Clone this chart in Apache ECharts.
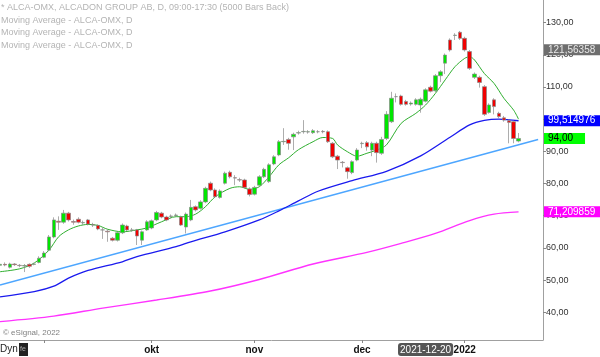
<!DOCTYPE html>
<html>
<head>
<meta charset="utf-8">
<script src="https://cdn.jsdelivr.net/npm/echarts@6/dist/echarts.min.js"></script>
<style>
html,body{margin:0;padding:0;background:#fff;}
#chart{width:600px;height:357px;}
</style>
</head>
<body>
<div id="chart"></div>
<script>
// ---- data ----
const dates = [
'2021-08-19','2021-08-20','2021-08-23','2021-08-24','2021-08-25','2021-08-26','2021-08-27','2021-08-30','2021-08-31',
'2021-09-01','2021-09-02','2021-09-03','2021-09-06','2021-09-07','2021-09-08','2021-09-09','2021-09-10','2021-09-13','2021-09-14','2021-09-15','2021-09-16','2021-09-17','2021-09-20','2021-09-21','2021-09-22','2021-09-23','2021-09-24','2021-09-27','2021-09-28','2021-09-29','2021-09-30',
'2021-10-01','2021-10-04','2021-10-05','2021-10-06','2021-10-07','2021-10-08','2021-10-11','2021-10-12','2021-10-13','2021-10-14','2021-10-15','2021-10-18','2021-10-19','2021-10-20','2021-10-21','2021-10-22','2021-10-25','2021-10-26','2021-10-27','2021-10-28','2021-10-29',
'2021-11-01','2021-11-02','2021-11-03','2021-11-04','2021-11-05','2021-11-08','2021-11-09','2021-11-10','2021-11-11','2021-11-12','2021-11-15','2021-11-16','2021-11-17','2021-11-18','2021-11-19','2021-11-22','2021-11-23','2021-11-24','2021-11-25','2021-11-26','2021-11-29','2021-11-30',
'2021-12-01','2021-12-02','2021-12-03','2021-12-06','2021-12-07','2021-12-08','2021-12-09','2021-12-10','2021-12-13','2021-12-14','2021-12-15','2021-12-16','2021-12-17','2021-12-20','2021-12-21','2021-12-22','2021-12-23','2021-12-27','2021-12-28','2021-12-29','2021-12-30',
'2022-01-03','2022-01-04','2022-01-05','2022-01-07','2022-01-10','2022-01-11','2022-01-12','2022-01-13','2022-01-14','2022-01-17','2022-01-18','2022-01-19',
'2022-01-20','2022-01-21','2022-01-24','2022-01-25','2022-01-26'
];
const openP = [54.6,54.9,54.0,55.0,54.6,54.4,54.9,54.9,55.5,57.1,59.3,63.4,68.3,68.0,70.8,68.2,68.9,67.8,68.7,67.2,67.0,65.6,65.2,63.0,62.4,64.7,66.8,65.5,65.6,62.4,65.6,66.2,68.7,70.8,69.6,69.8,70.1,69.6,66.5,68.7,72.8,72.3,74.3,80.1,78.0,75.7,80.1,83.5,81.8,81.2,81.1,78.3,76.7,79.5,82.1,80.6,86.1,88.9,93.0,93.7,94.5,95.7,96.1,96.0,95.8,96.1,96.2,96.1,92.5,88.5,86.6,84.9,83.4,87.3,92.4,92.7,90.4,92.5,89.4,94.0,99.2,107.0,107.2,105.5,104.7,104.6,104.4,105.6,109.9,108.8,113.5,117.4,124.6,126.0,127.0,125.1,121.0,113.0,113.0,110.1,102.1,106.0,101.8,100.4,99.5,99.2,93.2];
const closeP = [54.9,54.7,55.0,54.8,54.5,54.5,54.3,55.0,56.8,58.4,63.4,68.7,68.0,70.8,68.7,68.0,68.0,67.9,67.4,67.1,65.9,65.6,65.0,62.4,64.7,67.1,65.6,65.6,63.7,65.0,68.1,68.4,71.0,69.6,68.7,69.9,70.2,67.1,70.5,72.6,71.8,74.3,78.5,78.0,75.9,77.7,83.2,82.1,81.7,81.1,78.8,76.6,78.8,82.1,84.4,85.8,88.3,93.0,93.1,92.5,95.3,95.8,96.2,96.1,96.4,96.1,96.1,93.0,88.3,87.3,86.5,83.7,86.8,90.4,92.5,91.4,92.5,89.6,93.7,101.5,106.5,107.0,104.6,104.6,105.0,106.0,106.2,109.1,108.7,113.5,114.7,119.9,121.5,126.1,125.1,121.5,115.8,114.0,111.4,101.5,104.4,103.9,100.8,99.7,99.0,94.0,94.0];
const lowP = [54.2,54.3,53.6,54.4,54.0,52.5,53.8,54.6,55.2,56.8,59.0,63.0,65.6,67.5,68.2,67.2,67.6,67.2,67.0,66.5,65.5,62.8,61.9,62.0,62.0,64.3,65.2,65.0,60.9,60.9,65.3,65.8,68.3,69.2,68.3,69.2,69.6,66.8,64.5,68.3,71.3,71.9,73.9,77.6,75.5,75.3,79.7,81.6,79.5,80.5,78.4,76.0,76.3,79.1,81.7,80.2,85.7,88.5,92.0,90.5,90.4,95.2,95.5,95.5,95.4,95.6,95.6,92.6,87.9,84.5,85.0,81.5,82.9,86.9,91.0,90.2,88.5,86.5,88.9,93.5,98.8,105.2,104.2,104.2,104.2,104.2,102.0,105.2,108.3,108.4,111.5,114.0,121.0,124.6,124.6,121.0,115.3,112.5,109.8,101.0,101.7,101.5,100.3,99.2,92.5,92.5,92.8];
const highP = [55.3,55.5,55.4,55.3,55.0,55.0,55.2,55.4,57.4,59.0,64.0,69.5,69.8,71.8,71.2,68.8,69.5,68.5,69.0,67.8,67.3,66.3,65.8,63.4,65.0,67.6,67.2,66.2,65.9,65.4,68.6,68.8,71.5,71.2,70.0,70.4,70.7,70.0,71.0,74.9,73.2,74.8,79.0,80.6,78.5,78.2,83.7,84.0,82.6,81.8,81.5,78.8,79.3,82.6,84.9,86.3,88.8,93.5,97.2,94.2,95.8,96.4,99.7,96.6,96.9,96.6,96.6,96.5,92.9,88.9,87.0,85.3,87.2,91.0,93.0,93.2,93.0,93.0,94.5,102.5,108.5,108.0,107.6,106.0,105.5,106.5,106.7,109.6,110.4,114.0,115.2,120.4,125.1,126.7,127.4,125.6,121.5,114.5,113.5,110.6,104.9,106.5,102.3,101.0,99.9,99.6,95.7];
// moving averages read at sample bars: [barIndex, value]
const maFast = [[0,52.6],[4,53.5],[7,55.3],[10,59.3],[12,63.5],[14,65.6],[16,66.8],[18,67.3],[20,67.0],[22,65.8],[25,65.0],[28,65.6],[30,66.2],[33,68.1],[36,69.7],[38,69.7],[40,70.5],[42,72.8],[44,75.9],[47,78.5],[49,79.0],[51,78.2],[53,79.0],[55,82.1],[57,85.8],[59,88.0],[61,90.5],[64,93.0],[66,94.3],[68,94.0],[69,92.0],[71,89.9],[73,88.5],[75,89.4],[77,90.4],[79,92.0],[82,98.7],[85,101.8],[87,104.4],[89,108.0],[91,112.2],[93,116.3],[95,118.9],[96,119.4],[97,118.4],[99,114.2],[101,111.1],[103,106.5],[105,102.8],[106,100.0]];
const maMid = [[0,44.8],[7,46.4],[11,48.1],[14,50.6],[18,53.0],[25,55.7],[28,57.3],[36,60.4],[39,61.9],[46,65.0],[53,68.7],[57,71.5],[61,74.6],[65,77.6],[72,80.9],[79,83.8],[86,88.6],[92,94.4],[96,98.2],[99,99.6],[102,100.0],[106,99.5]];
const maSlow = [[0,37.1],[11,38.8],[21,41.3],[32,43.8],[43,46.6],[53,50.2],[64,55.0],[75,58.6],[82,61.4],[89,64.5],[96,68.5],[101,70.5],[106,71.2]];
const trendLine = [[0,48.5],[110,93.7]];
const yTicks = [40,50,60,70,80,90,100,110,120,130];
const priceTags = [121.56358, 99.514976, 94.00, 71.209859];
const priceTagText = ['121,56358','99,514976','94,00','71,209859'];
const monthNames = {'01':'2022','09':'','10':'okt','11':'nov','12':'dec'};
const crosshairDate = '2021-12-20';
const titleLines = ['* ALCA-OMX, ALCADON GROUP AB, D, 09:00-17:30 (5000 Bars Back)','Moving Average - ALCA-OMX, D','Moving Average - ALCA-OMX, D','Moving Average - ALCA-OMX, D'];

// ---- build ----
const candles = openP.map((o,i)=>[o, closeP[i], lowP[i], highP[i]]);
const isMonthStart = (i) => i > 0 && dates[i].slice(5,7) !== dates[i-1].slice(5,7);
const FONT = 'Liberation Sans, Arial, sans-serif';
const tagStyles = [
  {bg:'#6e6e6e', fg:'#e8e8e8'},
  {bg:'#0000ff', fg:'#ffffff'},
  {bg:'#00ff00', fg:'#000000'},
  {bg:'#ff00ff', fg:'#ffffff'}
];

const chart = echarts.init(document.getElementById('chart'), null, {renderer:'canvas'});
chart.setOption({
  animation: false,
  backgroundColor: '#ffffff',
  title: {
    text: titleLines.join('\n'),
    left: 1, top: 1, padding: 0,
    textStyle: {fontSize: 9, lineHeight: 12.8, color: '#b4b4b4', fontWeight: 'normal', fontFamily: FONT}
  },
  grid: {left: 0, right: 57, top: 0, bottom: 17, containLabel: false},
  xAxis: {
    type: 'category',
    data: dates,
    boundaryGap: false,
    axisLine: {show: true, lineStyle: {color: '#a0a0a0', width: 1}},
    axisTick: {show: true, length: 3, lineStyle: {color: '#888'}, interval: (i) => isMonthStart(i)},
    axisLabel: {
      interval: (i) => isMonthStart(i),
      formatter: (v) => monthNames[v.slice(5,7)] || '',
      color: '#111', fontSize: 10, fontWeight: 'bold', margin: 5, fontFamily: FONT
    },
    splitLine: {show: false},
    axisPointer: {
      show: true, status: 'show', value: dates.indexOf(crosshairDate), type: 'line',
      lineStyle: {opacity: 0}, triggerTooltip: false,
      label: {show: true, backgroundColor: '#555', color: '#fff', fontSize: 10, padding: [2,2,1,2], margin: 3, fontFamily: FONT,
        formatter: (p) => p.value}
    }
  },
  yAxis: {
    type: 'value',
    position: 'right',
    min: 31.39, max: 137.02,
    axisLine: {show: true, lineStyle: {color: '#a0a0a0', width: 1}},
    axisTick: {show: true, length: 3, lineStyle: {color: '#888'}, customValues: yTicks},
    axisLabel: {customValues: yTicks, formatter: (v) => v.toFixed(2).replace('.', ','), color: '#333', fontSize: 9, margin: 3, fontFamily: FONT},
    splitLine: {show: false}
  },
  series: [
    {
      type: 'line', name: 'slow', data: maSlow, showSymbol: false, smooth: 0.3,
      lineStyle: {color: '#ff33ff', width: 1.4}, z: 2, silent: true
    },
    {
      type: 'line', name: 'trend', data: trendLine, showSymbol: false,
      lineStyle: {color: '#4da6ff', width: 1.5}, z: 2, silent: true
    },
    {
      type: 'line', name: 'mid', data: maMid, showSymbol: false, smooth: 0.3,
      lineStyle: {color: '#1a1aee', width: 1.3}, z: 3, silent: true
    },
    {
      type: 'line', name: 'fast', data: maFast, showSymbol: false, smooth: 0.3,
      lineStyle: {color: '#2fae2f', width: 1}, z: 4, silent: true
    },
    {
      type: 'candlestick', name: 'ALCA', data: candles, barWidth: 4, z: 5,
      itemStyle: {color: '#00e600', color0: '#f00000', borderColor: '#8a8a8a', borderColor0: '#8a8a8a', borderWidth: 0.7},
      markLine: {
        silent: true, symbol: ['none','none'], animation: false,
        lineStyle: {color: 'rgba(0,0,0,0)', width: 0},
        data: priceTags.map((v,i)=>({
          yAxis: v,
          lineStyle: {color: 'rgba(0,0,0,0)', width: 0},
          label: {show: true, position: 'end', distance: 1, formatter: priceTagText[i],
            backgroundColor: tagStyles[i].bg, color: tagStyles[i].fg, fontSize: 10, padding: [1,12,0,4], fontFamily: FONT}
        }))
      }
    }
  ],
  graphic: [
    {type: 'text', left: 3, top: 329, style: {text: '\u00a9 eSignal, 2022', fontSize: 8, fill: '#808080', fontFamily: FONT}},
    {type: 'text', left: 0, top: 344, style: {text: 'Dyn', fontSize: 10, fill: '#222', fontFamily: FONT}},
    {type: 'rect', left: 19, top: 343, shape: {width: 9, height: 13}, style: {fill: '#222'}},
    {type: 'text', left: 20, top: 346, style: {text: 'fe', fontSize: 7, fill: '#aaa', fontFamily: FONT}}
  ]
});
</script>
</body>
</html>
